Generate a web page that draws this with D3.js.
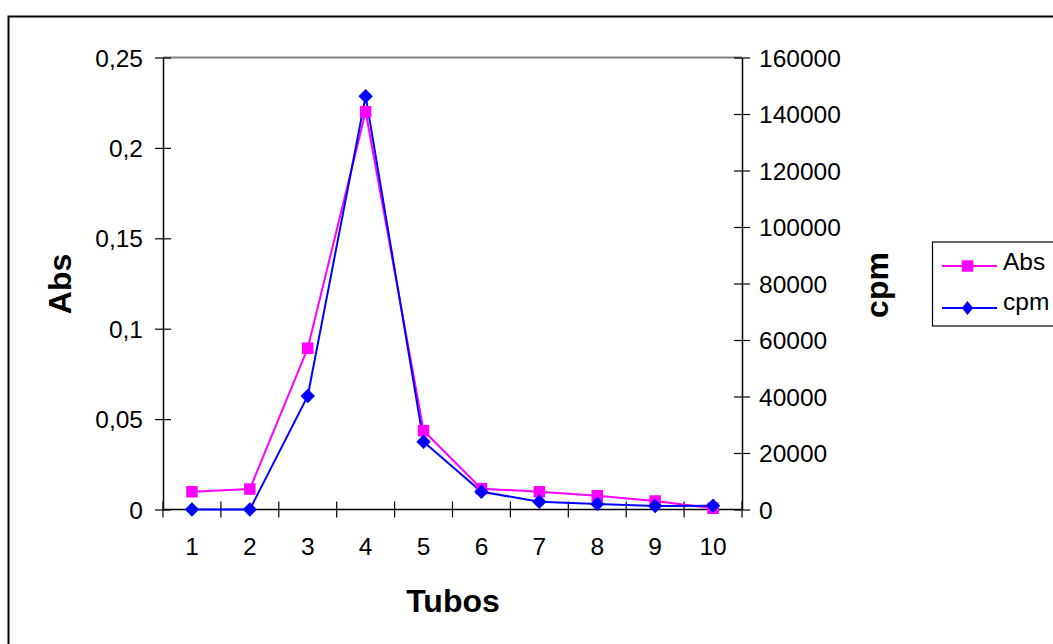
<!DOCTYPE html>
<html><head><meta charset="utf-8">
<script src="https://cdn.jsdelivr.net/npm/d3@7"></script>
<style>body{margin:0;background:#fff}svg{display:block;font-family:"Liberation Sans",Arial,sans-serif}</style>
</head><body>
<svg id="c" width="1053" height="644"></svg>
<script>
const tubos = ["1","2","3","4","5","6","7","8","9","10"];
const absValues = [0.0098, 0.0113, 0.0892, 0.22, 0.0436, 0.0115, 0.0098, 0.0076, 0.0047, 0.0007];
const cpmValues = [0, 0, 40200, 146300, 24000, 6300, 2760, 1950, 1250, 1350];
const absTicks = [0, 0.05, 0.1, 0.15, 0.2, 0.25];
const cpmTicks = [0, 20000, 40000, 60000, 80000, 100000, 120000, 140000, 160000];
const seriesNames = ["Abs", "cpm"];

const svg = d3.select("#c");
const L = 163, R = 742, T = 57.5, B = 509.5;
const FS = 24.5;
const fmt = d => String(d).replace(".", ",");

svg.append("rect").attr("x", 8.5).attr("y", 16.5).attr("width", 1100).attr("height", 700)
  .attr("fill", "#fff").attr("stroke", "#000").attr("stroke-width", 2);

const x = d3.scaleBand().domain(tubos).range([L, R]);
const yA = d3.scaleLinear().domain([0, 0.25]).range([B, T]);
const yC = d3.scaleLinear().domain([0, 160000]).range([B, T]);

// plot area border (top)
svg.append("line").attr("x1", L).attr("x2", R).attr("y1", T).attr("y2", T).attr("stroke", "#808080").attr("stroke-width", 2);

function styleAxis(g) {
  g.attr("font-size", FS).attr("font-family", "Liberation Sans, Arial, sans-serif");
  g.select(".domain").attr("stroke", "#000").attr("stroke-width", 1.5);
  g.selectAll(".tick line").attr("stroke", "#000").attr("stroke-width", 1.2);
  g.selectAll("text").attr("font-size", FS).attr("fill", "#000").attr("dy", null).attr("y", 8.5);
}

// left axis
const gl = svg.append("g").attr("transform", `translate(${L},0)`)
  .call(d3.axisLeft(yA).tickValues(absTicks).tickFormat(fmt).tickSizeInner(8).tickSizeOuter(0).tickPadding(12));
gl.selectAll(".tick line").attr("x2", 8).attr("x1", -8);
styleAxis(gl);

// right axis
const gr = svg.append("g").attr("transform", `translate(${R},0)`)
  .call(d3.axisRight(yC).tickValues(cpmTicks).tickFormat(d3.format("d")).tickSizeInner(8).tickSizeOuter(0).tickPadding(9));
gr.selectAll(".tick line").attr("x1", -8).attr("x2", 8);
styleAxis(gr);

// bottom axis
const xTickPos = d3.range(tubos.length + 1).map(i => L + i * x.bandwidth());
const gb = svg.append("g").attr("transform", `translate(0,${B})`);
gb.append("line").attr("x1", L).attr("x2", R).attr("stroke", "#000").attr("stroke-width", 1.5);
gb.selectAll("line.t").data(xTickPos).join("line").attr("class", "t")
  .attr("x1", d => d).attr("x2", d => d).attr("y1", -8).attr("y2", 8).attr("stroke", "#000").attr("stroke-width", 1.2);
gb.selectAll("text").data(tubos).join("text")
  .attr("x", d => x(d) + x.bandwidth() / 2).attr("y", 45).attr("text-anchor", "middle")
  .attr("font-size", FS).text(d => d);

// marker shapes
function diamondType(hw, hh) {
  return { draw(ctx) { ctx.moveTo(0, -hh); ctx.lineTo(hw, 0); ctx.lineTo(0, hh); ctx.lineTo(-hw, 0); ctx.closePath(); } };
}
const sq = d3.symbol().type(d3.symbolSquare).size(132);
const dia = d3.symbol().type(diamondType(7.2, 7.2));
const diaLeg = d3.symbol().type(diamondType(5.6, 6.9));

// lines
const cx = d => x(d) + x.bandwidth() / 2;
const lineA = d3.line().x((d, i) => cx(tubos[i])).y(d => yA(d));
const lineC = d3.line().x((d, i) => cx(tubos[i])).y(d => yC(d));
svg.append("path").attr("d", lineA(absValues)).attr("fill", "none").attr("stroke", "#FF00FF").attr("stroke-width", 2);
svg.append("path").attr("d", lineC(cpmValues)).attr("fill", "none").attr("stroke", "#0000FF").attr("stroke-width", 2);

svg.selectAll("path.a").data(absValues).join("path").attr("class", "a")
  .attr("transform", (d, i) => `translate(${cx(tubos[i])},${yA(d)})`).attr("d", sq).attr("fill", "#FF00FF");
svg.selectAll("path.c").data(cpmValues).join("path").attr("class", "c")
  .attr("transform", (d, i) => `translate(${cx(tubos[i])},${yC(d)})`).attr("d", dia).attr("fill", "#0000FF");

// axis titles
svg.append("text").attr("transform", "translate(70.5,284) rotate(-90)").attr("text-anchor", "middle")
  .attr("font-size", 32).attr("font-weight", "bold").text("Abs");
svg.append("text").attr("transform", "translate(888,285) rotate(-90)").attr("text-anchor", "middle")
  .attr("font-size", 32).attr("font-weight", "bold").text("cpm");
svg.append("text").attr("x", 453).attr("y", 611.5).attr("text-anchor", "middle")
  .attr("font-size", 32).attr("font-weight", "bold").text("Tubos");

// legend
const lg = svg.append("g");
lg.append("rect").attr("x", 932.5).attr("y", 242).attr("width", 200).attr("height", 84)
  .attr("fill", "#fff").attr("stroke", "#000").attr("stroke-width", 1.2);
const legColors = ["#FF00FF", "#0000FF"];
const legY = [266, 308];
seriesNames.forEach((n, i) => {
  const yy = legY[i];
  lg.append("line").attr("x1", 942).attr("x2", 997).attr("y1", yy).attr("y2", yy).attr("stroke", legColors[i]).attr("stroke-width", 2);
  lg.append("path").attr("transform", `translate(967.5,${yy})`).attr("d", i ? diaLeg : sq).attr("fill", legColors[i]);
  lg.append("text").attr("x", 1003).attr("y", yy + (i ? 2 : 3.5)).attr("font-size", FS).text(n);
});
</script>
</body></html>
